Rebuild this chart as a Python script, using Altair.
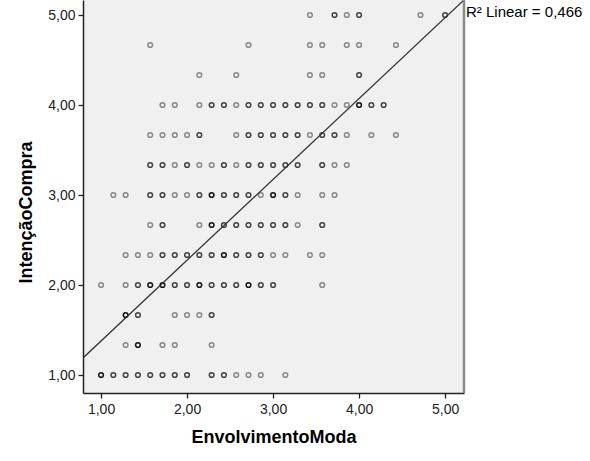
import altair as alt
import pandas as pd

# Scale item averages: x steps of 1/7, y steps of 1/3
# Each row: y-step index j, x-step indices k, and visual density (1 light, 2 dark, 3 very dark)
row_j = [12, 11, 10, 9, 8, 7, 6, 5, 4, 3, 2, 1, 0]
row_k = [
    [17, 19, 20, 21, 26, 28],
    [4, 12, 17, 18, 20, 21, 24],
    [8, 11, 17, 18, 21],
    [5, 6, 8, 9, 10, 11, 12, 13, 14, 15, 16, 17, 18, 19, 20, 21, 22, 23],
    [4, 5, 6, 7, 8, 11, 12, 13, 14, 15, 16, 17, 18, 19, 20, 22, 24],
    [4, 5, 6, 7, 8, 9, 10, 11, 12, 13, 14, 15, 16, 18, 19, 20],
    [1, 2, 4, 5, 6, 7, 8, 9, 10, 11, 12, 13, 14, 15, 16, 18, 19],
    [4, 5, 8, 9, 10, 11, 12, 13, 14, 15, 16, 18],
    [2, 3, 4, 5, 6, 7, 8, 9, 10, 11, 12, 13, 14, 15, 17, 18],
    [0, 2, 3, 4, 5, 6, 7, 8, 9, 10, 11, 12, 13, 14, 18],
    [2, 3, 6, 7, 8, 9],
    [2, 3, 5, 6, 9],
    [0, 1, 2, 3, 4, 5, 6, 7, 9, 10, 11, 12, 13, 15],
]
row_n = [
    [1, 2, 1, 2, 1, 2],
    [1, 1, 1, 1, 1, 1, 1],
    [1, 1, 1, 1, 2],
    [1, 1, 1, 2, 2, 1, 2, 2, 2, 2, 2, 2, 2, 1, 1, 3, 2, 2],
    [1, 1, 1, 1, 2, 1, 2, 2, 2, 2, 2, 1, 2, 2, 1, 1, 1],
    [2, 2, 1, 2, 1, 1, 2, 1, 2, 2, 2, 2, 2, 2, 1, 1],
    [1, 1, 2, 2, 1, 1, 2, 3, 2, 2, 2, 1, 3, 2, 1, 1, 1],
    [1, 2, 1, 3, 2, 2, 2, 2, 2, 2, 1, 2],
    [1, 1, 1, 2, 2, 2, 2, 2, 3, 2, 2, 2, 1, 1, 1, 1],
    [1, 1, 2, 3, 3, 2, 2, 3, 2, 2, 2, 3, 2, 2, 1],
    [3, 2, 1, 1, 1, 2],
    [1, 3, 1, 1, 1],
    [3, 2, 2, 2, 2, 2, 2, 2, 2, 2, 1, 1, 1, 1],
]

# Fit line
fit_slope = 0.898
fit_intercept = 0.48
x_min, x_max = 0.79, 5.22
y_min, y_max = 0.8, 5.167
r2_label = "R² Linear = 0,466"

recs = []
for j, ks, ns in zip(row_j, row_k, row_n):
    for k, n in zip(ks, ns):
        recs.append({"x": 1 + k / 7, "y": 1 + j / 3, "n": n})
df = pd.DataFrame(recs)

line_df = pd.DataFrame({
    "x": [x_min, x_max],
    "y": [fit_intercept + fit_slope * x_min, fit_intercept + fit_slope * x_max],
})

W, H = 381, 393
lab = "replace(format(datum.value, '.2f'), '.', ',')"
xs = alt.Scale(domain=[x_min, x_max], nice=False, zero=False)
ys = alt.Scale(domain=[y_min, y_max], nice=False, zero=False)

points = alt.Chart(df).mark_point(
    shape="circle", filled=False, size=22, strokeWidth=1.5, opacity=1
).encode(
    x=alt.X("x:Q", scale=xs, title="EnvolvimentoModa",
            axis=alt.Axis(values=[1, 2, 3, 4, 5], labelExpr=lab, grid=False)),
    y=alt.Y("y:Q", scale=ys, title="IntençãoCompra",
            axis=alt.Axis(values=[1, 2, 3, 4, 5], labelExpr=lab, grid=False, titleY=212)),
    color=alt.Color("n:O", scale=alt.Scale(domain=[1, 2, 3], range=["#8a8a8a", "#444444", "#151515"]),
                    legend=None),
)

fit = alt.Chart(line_df).mark_line(color="#333333", strokeWidth=1.3, clip=True).encode(
    x=alt.X("x:Q", scale=xs), y=alt.Y("y:Q", scale=ys)
)

right_edge = alt.Chart(pd.DataFrame({"a": [0]})).mark_rule(color="#8a8a8a", strokeWidth=2.5).encode(
    x=alt.value(W), y=alt.value(0), y2=alt.value(H)
)

label = alt.Chart(pd.DataFrame({"t": [r2_label]})).mark_text(
    align="left", baseline="middle", fontSize=15, font="Liberation Sans", color="#000000"
).encode(x=alt.value(W + 2), y=alt.value(12), text="t:N")

chart = alt.layer(points, fit, right_edge, label).properties(
    width=W, height=H,
    autosize=alt.AutoSizeParams(type="none"),
    padding={"left": 83, "top": 0, "right": 126, "bottom": 68},
    background="white",
).configure_view(
    fill="#f0f0f0", strokeWidth=0
).configure_axis(
    domainColor="#222222", domainWidth=1.5, tickColor="#222222", tickSize=5, tickWidth=1.3,
    labelFont="Liberation Sans", labelFontSize=14, labelColor="#222222",
    titleFont="Liberation Sans", titleFontSize=18, titleFontWeight="bold", titleColor="#000000",
).configure_axisX(labelPadding=4, titlePadding=12).configure_axisY(labelPadding=3, titlePadding=12)

chart.save("out.html", embed_options={"renderer": "svg", "actions": False})
